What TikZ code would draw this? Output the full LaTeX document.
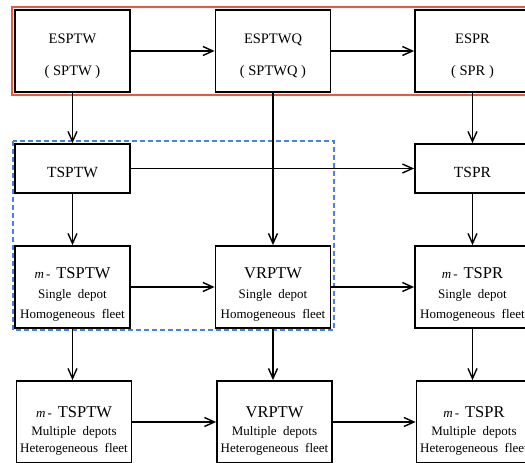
\documentclass[tikz,border=0pt]{standalone}
\usepackage{fontspec}
\setmainfont{Liberation Serif}
\usetikzlibrary{arrows.meta}
\definecolor{framered}{RGB}{234,88,66}
\definecolor{frameblue}{RGB}{74,128,232}
% wide gap between words inside the boxes
\newcommand{\wgap}{\hspace{0.5em}}
% "m -" prefix of the multi-vehicle problems
\newcommand{\mpre}{{\fontsize{13}{19}\selectfont\itshape m}\,{\fontsize{13}{19}\selectfont -}\hspace{0.45em}}
% larger first line of the lower boxes
\newcommand{\headline}[1]{{\fontsize{16.5}{19}\selectfont #1}}

\begin{document}
\begin{tikzpicture}[x=1pt,y=-1pt,
  box/.style={draw=black, line width=1.8pt, minimum width=115pt, inner sep=0pt, fill=white},
  tallbox/.style={box, minimum height=82pt},
  shortbox/.style={box, minimum height=49pt},
  boxtext/.style={inner sep=0pt, align=center},
  toptext/.style={boxtext, font=\fontsize{14.5}{32}\selectfont, yshift=-5pt},
  midtext/.style={boxtext, font=\fontsize{15.5}{19}\selectfont, yshift=-4pt},
  lowtext/.style={boxtext, font=\fontsize{13}{20}\selectfont, yshift=-7pt},
  basetext/.style={boxtext, font=\fontsize{13}{17.5}\selectfont, yshift=-9pt},
  link/.style={line width=1.4pt, -{Straight Barb[length=10pt,width=9pt]}},
  redframe/.style={draw=framered, line width=1.1pt},
  blueframe/.style={draw=frameblue, line width=1.1pt, dash pattern=on 5pt off 3pt}
]
\useasboundingbox (0,0) rectangle (525,463);
\clip (0,0) rectangle (525,463);

% group frames
\draw[redframe] (12,7) rectangle (540,95);
\draw[blueframe] (13,141) rectangle (334,330);

% row 1: elementary shortest path problems
\node[tallbox] (esptw)  at (72.5,51) {};
\node[tallbox] (esptwq) at (273,51)  {};
\node[tallbox] (espr)   at (472.5,51) {};
\node[toptext] (esptw-t)  at (esptw)  {ESPTW\\( SPTW )};
\node[toptext] (esptwq-t) at (esptwq) {ESPTWQ\\( SPTWQ )};
\node[toptext] (espr-t)   at (espr)   {ESPR\\( SPR )};

% row 2: travelling salesman problems
\node[shortbox] (tsptw) at (72.5,168.5) {};
\node[shortbox] (tspr)  at (472.5,168.5) {};
\node[midtext] (tsptw-t) at (tsptw) {TSPTW};
\node[midtext] (tspr-t)  at (tspr)  {TSPR};

% row 3: single depot, homogeneous fleet
\node[tallbox] (mtsptw1) at (72.5,287) {};
\node[tallbox] (vrptw1)  at (273,287) {};
\node[tallbox] (mtspr1)  at (472.5,287) {};
\node[lowtext] (mtsptw1-t) at (mtsptw1)
  {\mpre\headline{TSPTW}\\Single\wgap depot\\Homogeneous\wgap fleet};
\node[lowtext] (vrptw1-t) at (vrptw1)
  {\headline{VRPTW}\\Single\wgap depot\\Homogeneous\wgap fleet};
\node[lowtext] (mtspr1-t) at (mtspr1)
  {\mpre\headline{TSPR}\\Single\wgap depot\\Homogeneous\wgap fleet};

% row 4: multiple depots, heterogeneous fleet
\node[tallbox] (mtsptw2) at (74,422) {};
\node[tallbox] (vrptw2)  at (274.5,422) {};
\node[tallbox] (mtspr2)  at (474,422) {};
\node[basetext] (mtsptw2-t) at (mtsptw2)
  {\mpre\headline{TSPTW}\\Multiple\wgap depots\\Heterogeneous\wgap fleet};
\node[basetext] (vrptw2-t) at (vrptw2)
  {\headline{VRPTW}\\Multiple\wgap depots\\Heterogeneous\wgap fleet};
\node[basetext] (mtspr2-t) at (mtspr2)
  {\mpre\headline{TSPR}\\Multiple\wgap depots\\Heterogeneous\wgap fleet};

% horizontal relations
\draw[link] (esptw.east) -- (esptwq.west);
\draw[link] (esptwq.east) -- (espr.west);
\draw[link] (tsptw.east) -- (tspr.west);
\draw[link] (mtsptw1.east) -- (vrptw1.west);
\draw[link] (vrptw1.east) -- (mtspr1.west);
\draw[link] (mtsptw2.east) -- (mtsptw2.east -| vrptw2.west);
\draw[link] (vrptw2.east) -- (vrptw2.east -| mtspr2.west);

% vertical relations
\draw[link] (esptw.south) -- (tsptw.north);
\draw[link] (esptwq.south) -- (vrptw1.north);
\draw[link] (espr.south) -- (tspr.north);
\draw[link] (tsptw.south) -- (mtsptw1.north);
\draw[link] (tspr.south) -- (mtspr1.north);
\draw[link] (mtsptw1.south) -- (mtsptw1.south |- mtsptw2.north);
\draw[link] (vrptw1.south) -- (vrptw1.south |- vrptw2.north);
\draw[link] (mtspr1.south) -- (mtspr1.south |- mtspr2.north);
\end{tikzpicture}
\end{document}
